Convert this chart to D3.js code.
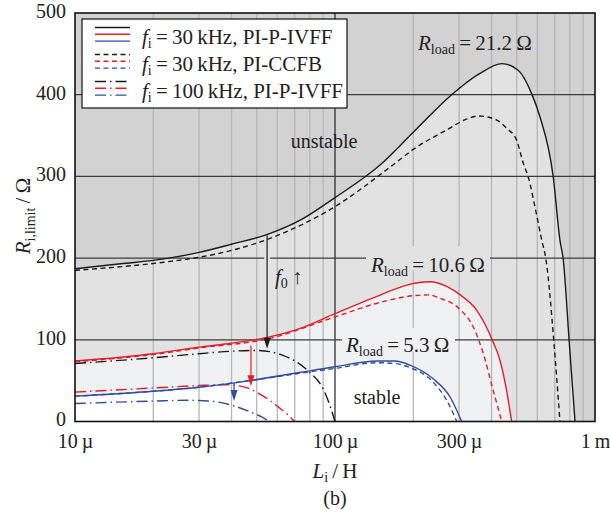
<!DOCTYPE html>
<html>
<head>
<meta charset="utf-8">
<script src="https://cdn.jsdelivr.net/npm/d3@7"></script>
<style>
  body { margin: 0; background: #fff; }
  svg text { font-family: "Liberation Serif", "DejaVu Serif", serif; fill: #222; }
</style>
</head>
<body>
<svg id="chart" width="610" height="512"></svg>
<script>
// inductance in µH, R_i,limit in Ω
const blackSolidL = [10, 15, 22, 30, 40, 55, 75, 100, 149, 200, 281, 361, 438, 506, 571, 614, 691, 733, 755, 796, 838];
const blackSolidR = [187, 193, 199, 207, 217, 229, 248, 274, 314, 354, 400, 426, 438, 430, 401, 373, 299, 222, 198, 97, 0];
const blackDashL = [10, 22, 30, 55, 100, 167, 200, 269, 320, 356, 419, 457, 500, 530, 554, 590, 624, 648, 695, 733];
const blackDashR = [185, 195, 201, 223, 263, 314, 333, 357, 370, 374, 369, 359, 344, 316, 299, 260, 222, 198, 97, 0];
const blackDotL = [10, 20, 30, 40, 50, 63, 71, 80, 90, 95, 100];
const blackDotR = [71, 78, 83, 86, 87, 81, 73, 60, 40, 22, 0];

const redSolidL = [10, 20, 30, 36, 55, 75, 100, 150, 189, 232, 270, 303, 351, 406, 431, 457, 478];
const redSolidR = [74, 83, 91, 94, 103, 115, 132, 155, 167, 171, 165, 155, 136, 97, 75, 38, 0];
const redDashL = [10, 20, 30, 55, 100, 150, 200, 230, 253, 303, 340, 372, 406, 438];
const redDashR = [73, 82, 90, 101, 128, 146, 154, 155, 151, 137, 116, 83, 38, 0];
const redDotL = [10, 20, 30, 38, 45, 53, 61, 66, 70];
const redDotR = [36, 41, 44, 45, 42, 31, 17, 8, 0];

const blueSolidL = [10, 20, 30, 47, 73, 100, 145, 170, 194, 239, 277, 307];
const blueSolidR = [31, 37, 42, 50, 60, 67, 74, 74, 69, 52, 30, 0];
const blueDashL = [10, 20, 30, 47, 73, 100, 145, 170, 194, 239, 270, 294];
const blueDashR = [31, 37, 42, 50, 59, 65, 72, 71, 66, 48, 25, 0];
const blueDotL = [10, 20, 27, 33, 40, 47, 52, 56];
const blueDotR = [22, 25, 26, 25, 20, 12, 6, 0];

const xTickValues = [10, 30, 100, 300, 1000];
const xTickLabels = ["10\u2009\u00b5", "30\u2009\u00b5", "100\u2009\u00b5", "300\u2009\u00b5", "1\u2009m"];
const yTickValues = [0, 100, 200, 300, 400, 500];
const xGridMinor = [20, 30, 40, 50, 60, 70, 80, 90, 200, 300, 400, 500, 600, 700, 800, 900];
const yGrid = [100, 200, 300, 400];

const legendFreq = ["30", "30", "100"];
const legendCtrl = ["PI-P-IVFF", "PI-CCFB", "PI-P-IVFF"];
const loadLabels = ["21.2", "10.6", "5.3"];

// arrows: L, from R, to R
const arrows = [
    { L: 54.8, r0: 228, r1: 89, color: "#1a1a1a" },
    { L: 47.5, r0: 93, r1: 43, color: "#e41e26" },
    { L: 40.9, r0: 47, r1: 25, color: "#2e4f9e" }
];

const svg = d3.select("#chart");
const mLeft = 75, mRight = 595, mTop = 13, mBottom = 421.5;

const x = d3.scaleLog().domain([10, 1000]).range([mLeft, mRight]);
const y = d3.scaleLinear().domain([0, 500]).range([mBottom, mTop]);

const BLACK = "#1a1a1a", RED = "#e41e26", BLUE = "#2e4f9e";

function pts(L, R) { return L.map((l, i) => [l, R[i]]); }

const line = d3.line().x(d => x(d[0])).y(d => y(d[1])).curve(d3.curveMonotoneX);
const area = d3.area().x(d => x(d[0])).y0(y(0)).y1(d => y(d[1])).curve(d3.curveMonotoneX);

svg.append("defs").append("clipPath").attr("id", "plotclip")
    .append("rect").attr("x", mLeft).attr("y", mTop).attr("width", mRight - mLeft).attr("height", mBottom - mTop);

const plot = svg.append("g").attr("clip-path", "url(#plotclip)");

// background regions
plot.append("rect").attr("x", mLeft).attr("y", mTop).attr("width", mRight - mLeft).attr("height", mBottom - mTop)
    .attr("fill", "#d2d2d2");
plot.append("path").datum(pts(blackSolidL, blackSolidR)).attr("d", area).attr("fill", "#e2e2e3");
plot.append("path").datum(pts(redSolidL, redSolidR)).attr("d", area).attr("fill", "#f0f1f3");
plot.append("path").datum(pts(blueSolidL, blueSolidR)).attr("d", area).attr("fill", "#ffffff");

// grid
plot.selectAll(".vminor").data(xGridMinor).enter().append("line")
    .attr("x1", d => x(d)).attr("x2", d => x(d)).attr("y1", mTop).attr("y2", mBottom)
    .attr("stroke", "#b6b6b6").attr("stroke-width", 1.3);
plot.append("line").attr("x1", x(100)).attr("x2", x(100)).attr("y1", mTop).attr("y2", mBottom)
    .attr("stroke", "#222").attr("stroke-width", 1.2);
plot.selectAll(".hgrid").data(yGrid).enter().append("line")
    .attr("x1", mLeft).attr("x2", mRight).attr("y1", d => y(d)).attr("y2", d => y(d))
    .attr("stroke", "#3c3c3c").attr("stroke-width", 1.2);

// label patches that break the grid lines
plot.append("rect").attr("x", 366).attr("y", y(200) - 12).attr("width", 124).attr("height", 24).attr("fill", "#e2e2e3");
plot.append("rect").attr("x", 342).attr("y", y(100) - 12).attr("width", 113).attr("height", 24).attr("fill", "#f0f1f3");
plot.append("rect").attr("x", x(54.8) - 3).attr("y", y(200) - 6).attr("width", 6).attr("height", 12).attr("fill", "#e2e2e3");

// curves
const curves = [
    [blackSolidL, blackSolidR, BLACK, null],
    [blackDashL, blackDashR, BLACK, "5,3.5"],
    [blackDotL, blackDotR, BLACK, "11,4,1.5,4"],
    [redSolidL, redSolidR, RED, null],
    [redDashL, redDashR, RED, "5,3.5"],
    [redDotL, redDotR, RED, "11,4,1.5,4"],
    [blueSolidL, blueSolidR, BLUE, null],
    [blueDashL, blueDashR, BLUE, "5,3.5"],
    [blueDotL, blueDotR, BLUE, "11,4,1.5,4"]
];
curves.forEach(c => {
    plot.append("path").datum(pts(c[0], c[1])).attr("d", line)
        .attr("fill", "none").attr("stroke", c[2]).attr("stroke-width", 1.4)
        .attr("stroke-dasharray", c[3]);
});

// arrows
arrows.forEach(a => {
    const ax = x(a.L), y0 = y(a.r0), y1 = y(a.r1);
    plot.append("line").attr("x1", ax).attr("x2", ax).attr("y1", y0).attr("y2", y1 - 8)
        .attr("stroke", a.color).attr("stroke-width", 1.2);
    plot.append("path").attr("d", `M${ax - 3.5},${y1 - 11} L${ax + 3.5},${y1 - 11} L${ax},${y1} Z`)
        .attr("fill", a.color);
});

// axes labels
const xAxis = d3.axisBottom(x).tickValues(xTickValues).tickFormat((d, i) => xTickLabels[i]).tickSize(0).tickPadding(12);
const gx = svg.append("g").attr("transform", `translate(0,${mBottom})`).call(xAxis);
gx.select(".domain").remove();
gx.selectAll("text").attr("font-size", 20).attr("font-family", "Liberation Serif").attr("fill", "#222");

const yAxis = d3.axisLeft(y).tickValues(yTickValues).tickSize(0).tickPadding(9);
const gy = svg.append("g").attr("transform", `translate(${mLeft},-2)`).call(yAxis);
gy.select(".domain").remove();
gy.selectAll("text").attr("font-size", 20).attr("font-family", "Liberation Serif").attr("fill", "#222");

// frame
svg.append("rect").attr("x", mLeft).attr("y", mTop).attr("width", mRight - mLeft).attr("height", mBottom - mTop)
    .attr("fill", "none").attr("stroke", "#111").attr("stroke-width", 1.6);

// axis titles
const yt = svg.append("text").attr("transform", `translate(30,216) rotate(-90)`)
    .attr("text-anchor", "middle").attr("font-size", 21);
yt.append("tspan").attr("font-style", "italic").text("R");
yt.append("tspan").attr("font-size", 14).attr("dy", 5).text("i,limit");
yt.append("tspan").attr("dy", -5).text("\u2009/\u2009\u03a9");

const xt = svg.append("text").attr("x", 335).attr("y", 478).attr("text-anchor", "middle").attr("font-size", 21);
xt.append("tspan").attr("font-style", "italic").text("L");
xt.append("tspan").attr("font-size", 14).attr("dy", 4).text("i");
xt.append("tspan").attr("dy", -4).text("\u2009/\u2009H");

svg.append("text").attr("x", 335).attr("y", 505).attr("text-anchor", "middle").attr("font-size", 20).text("(b)");

// region and load labels
svg.append("text").attr("x", 324).attr("y", 148).attr("text-anchor", "middle").attr("font-size", 20).text("unstable");
svg.append("text").attr("x", 377).attr("y", 404).attr("text-anchor", "middle").attr("font-size", 20).text("stable");

const loadPos = [[418, 50], [371, 272], [346, 352]];
loadLabels.forEach((v, i) => {
    const t = svg.append("text").attr("x", loadPos[i][0]).attr("y", loadPos[i][1]).attr("font-size", 21);
    t.append("tspan").attr("font-style", "italic").text("R");
    t.append("tspan").attr("font-size", 14).attr("dy", 4).text("load");
    t.append("tspan").attr("dy", -4).text("\u2009=\u2009" + v + "\u2009\u03a9");
});

const f0 = svg.append("text").attr("x", 275).attr("y", 284).attr("font-size", 21);
f0.append("tspan").attr("font-style", "italic").text("f");
f0.append("tspan").attr("font-size", 14).attr("dy", 4).text("0");
f0.append("tspan").attr("dy", -4).text("\u2009\u2191");

// legend
const lg = svg.append("g");
lg.append("rect").attr("x", 82).attr("y", 19).attr("width", 265).attr("height", 89)
    .attr("fill", "#fff").attr("stroke", "#222").attr("stroke-width", 1.3);
const dashes = [null, "5,3.5", "11,4,1.5,4"];
const legColors = [BLACK, RED, BLUE];
legendFreq.forEach((fq, i) => {
    const by = 27.5 + i * 27;
    legColors.forEach((c, j) => {
        lg.append("line").attr("x1", 95).attr("x2", 130).attr("y1", by + j * 6.8).attr("y2", by + j * 6.8)
            .attr("stroke", c).attr("stroke-width", 1.4).attr("stroke-dasharray", dashes[i]);
    });
    const t = lg.append("text").attr("x", 142).attr("y", 44 + i * 27).attr("font-size", 21);
    t.append("tspan").attr("font-style", "italic").text("f");
    t.append("tspan").attr("font-size", 14).attr("dy", 4).text("i");
    t.append("tspan").attr("dy", -4).text("\u2009=\u2009" + fq + "\u2009kHz, " + legendCtrl[i]);
});
</script>
</body>
</html>
